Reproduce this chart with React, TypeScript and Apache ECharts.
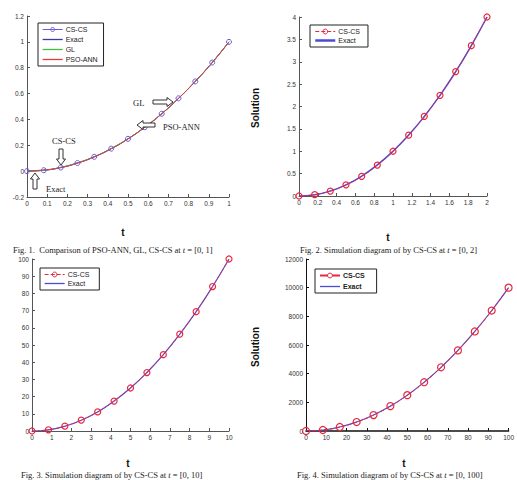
import React, { useEffect, useRef } from "react";
import * as echarts from "echarts";

// ---------- data ----------
// Fig. 1: t in [0,1]
const T1 = [0, 0.083, 0.167, 0.25, 0.333, 0.417, 0.5, 0.583, 0.667, 0.75, 0.833, 0.917, 1];
const CS1 = [0, 0.007, 0.028, 0.063, 0.111, 0.174, 0.25, 0.34, 0.444, 0.563, 0.694, 0.84, 1];
const EXACT1 = [0, 0.007, 0.028, 0.063, 0.111, 0.174, 0.25, 0.34, 0.444, 0.563, 0.694, 0.84, 1];
const GL1 = [0, 0.006, 0.03, 0.065, 0.112, 0.176, 0.251, 0.34, 0.445, 0.562, 0.693, 0.838, 1];
const PSO1 = [0.003, 0.009, 0.027, 0.062, 0.11, 0.173, 0.249, 0.339, 0.444, 0.563, 0.695, 0.841, 1];
// Fig. 2: t in [0,2]
const T2 = [0, 0.167, 0.333, 0.5, 0.667, 0.833, 1, 1.167, 1.333, 1.5, 1.667, 1.833, 2];
const CS2 = [0, 0.03, 0.11, 0.25, 0.44, 0.69, 1, 1.36, 1.78, 2.25, 2.78, 3.36, 4];
const EXACT2 = [0, 0.028, 0.111, 0.25, 0.444, 0.694, 1, 1.361, 1.778, 2.25, 2.778, 3.361, 4];
// Fig. 3: t in [0,10]
const T3 = [0, 0.833, 1.667, 2.5, 3.333, 4.167, 5, 5.833, 6.667, 7.5, 8.333, 9.167, 10];
const CS3 = [0, 0.7, 2.8, 6.3, 11.1, 17.4, 25, 34, 44.4, 56.3, 69.4, 84, 100];
const EXACT3 = [0, 0.69, 2.78, 6.25, 11.1, 17.4, 25, 34, 44.4, 56.25, 69.4, 84, 100];
// Fig. 4: t in [0,100]
const T4 = [0, 8.33, 16.67, 25, 33.33, 41.67, 50, 58.33, 66.67, 75, 83.33, 91.67, 100];
const CS4 = [0, 69, 278, 625, 1111, 1736, 2500, 3403, 4444, 5625, 6944, 8403, 10000];
const EXACT4 = [0, 69, 278, 625, 1111, 1736, 2500, 3403, 4444, 5625, 6944, 8403, 10000];

const CAPTIONS = [
  ["Fig. 1.  Comparison of PSO-ANN, GL, CS-CS at ", "t", " = [0, 1]"],
  ["Fig. 2. Simulation diagram of by CS-CS at ", "t", " = [0, 2]"],
  ["Fig. 3. Simulation diagram of by CS-CS at ", "t", " = [0, 10]"],
  ["Fig. 4. Simulation diagram of by CS-CS at ", "t", " = [0, 100]"],
];

const SANS = "Liberation Sans, Arial, sans-serif";
const SERIF = "Liberation Serif, Times New Roman, serif";

const pairs = (xs: number[], ys: number[]) => xs.map((x, i) => [x, ys[i]]);

function arrowH(x0: number, x1: number, cy: number, dir: 1 | -1) {
  const bh = 2, hh = 4.5, hl = 6;
  let pts: number[][];
  if (dir === 1) {
    pts = [[x0, cy - bh], [x1 - hl, cy - bh], [x1 - hl, cy - hh], [x1, cy], [x1 - hl, cy + hh], [x1 - hl, cy + bh], [x0, cy + bh]];
  } else {
    pts = [[x1, cy - bh], [x0 + hl, cy - bh], [x0 + hl, cy - hh], [x0, cy], [x0 + hl, cy + hh], [x0 + hl, cy + bh], [x1, cy + bh]];
  }
  return { type: "polygon", shape: { points: pts }, style: { fill: "#fff", stroke: "#333", lineWidth: 1 }, z: 100 };
}
function arrowV(cx: number, y0: number, y1: number, dir: 1 | -1) {
  const bh = 2, hh = 4.5, hl = 6;
  let pts: number[][];
  if (dir === 1) {
    pts = [[cx - bh, y0], [cx - bh, y1 - hl], [cx - hh, y1 - hl], [cx, y1], [cx + hh, y1 - hl], [cx + bh, y1 - hl], [cx + bh, y0]];
  } else {
    pts = [[cx - bh, y1], [cx - bh, y0 + hl], [cx - hh, y0 + hl], [cx, y0], [cx + hh, y0 + hl], [cx + bh, y0 + hl], [cx + bh, y1]];
  }
  return { type: "polygon", shape: { points: pts }, style: { fill: "#fff", stroke: "#333", lineWidth: 1 }, z: 100 };
}

function axisPair(idx: number, min: number, max: number, interval: number, ymin: number, ymax: number, yint: number, lineColor: string, xLineWidth = 1) {
  const lab = { fontSize: 6.5, color: "#333", fontFamily: SANS, margin: 3, formatter: (v: number) => String(+v.toFixed(6)) };
  const x = {
    type: "value", gridIndex: idx, min, max, interval,
    axisLine: { show: true, onZero: false, lineStyle: { color: lineColor, width: xLineWidth } },
    axisTick: { show: true, inside: true, length: 3, lineStyle: { color: lineColor } },
    axisLabel: { ...lab, showMinLabel: true, showMaxLabel: true },
    splitLine: { show: false },
  };
  const y = {
    type: "value", gridIndex: idx, min: ymin, max: ymax, interval: yint,
    axisLine: { show: true, onZero: false, lineStyle: { color: lineColor } },
    axisTick: { show: true, inside: true, length: 3, lineStyle: { color: lineColor } },
    axisLabel: { ...lab, showMinLabel: true, showMaxLabel: true },
    splitLine: { show: false },
  };
  return { x, y };
}

function captionText(i: number, x: number, y: number) {
  const [a, t, b] = CAPTIONS[i];
  return {
    type: "text", x, y, z: 100,
    style: {
      text: `{n|${a}}{i|${t}}{n|${b}}`,
      rich: {
        n: { fontFamily: SERIF, fontSize: 8.5, fill: "#222" },
        i: { fontFamily: SERIF, fontSize: 8.5, fontStyle: "italic", fill: "#222" },
      },
      verticalAlign: "middle",
    },
  };
}

function label(text: string, x: number, y: number, opts: any = {}) {
  return {
    type: "text", x, y, z: 100, rotation: opts.rotation || 0,
    style: {
      text, fontFamily: opts.family || SANS, fontSize: opts.size || 10, fontWeight: opts.weight || "bold",
      fill: "#111", align: "center", verticalAlign: "middle",
    },
  };
}

const NO_SYMBOL = { color: "rgba(0,0,0,0)", borderColor: "rgba(0,0,0,0)", borderWidth: 0 };

export default function App() {
  const ref = useRef<HTMLDivElement>(null);
  useEffect(() => {
    if (!ref.current) return;
    const chart = echarts.init(ref.current, undefined, { renderer: "svg" });
    const a1 = axisPair(0, 0, 1, 0.1, -0.2, 1.2, 0.2, "#555");
    const a2 = axisPair(1, 0, 2, 0.2, 0, 4, 0.5, "#555");
    const a3 = axisPair(2, 0, 10, 1, 0, 100, 10, "#555");
    const a4 = axisPair(3, 0, 100, 10, 0, 12000, 2000, "#111", 1.6);

    const red = "#e8283c";
    const blue = "#4a4ad8";
    const c1 = { cs: "#6a5ad8", ex: "#3a3aa8", gl: "#40c040", pso: "#e83848" };

    const legendBase = {
      orient: "vertical", borderColor: "#222", borderWidth: 1, backgroundColor: "#fff", borderRadius: 0,
      itemWidth: 20, itemHeight: 5, itemGap: 3, padding: [3, 6, 3, 4],
      textStyle: { fontSize: 7, fontFamily: SANS, color: "#222", padding: [0, 0, 0, -2] },
      itemStyle: { borderWidth: 1 },
      selectedMode: false,
    };
    const noSym = (name: string, color: string, width = 1.3) => ({ name, itemStyle: NO_SYMBOL, lineStyle: { color, width, opacity: 1, type: "solid" } });

    const option: any = {
      animation: false,
      backgroundColor: "#fff",
      grid: [
        { left: 27, top: 16, width: 202, height: 181 },
        { left: 299, top: 17, width: 188, height: 179 },
        { left: 32, top: 259, width: 197, height: 172 },
        { left: 306, top: 259, width: 207, height: 172 },
      ],
      xAxis: [a1.x, a2.x, a3.x, a4.x],
      yAxis: [a1.y, a2.y, a3.y, a4.y],
      legend: [
        {
          ...legendBase, left: 38, top: 23,
          data: [
            { name: "CS-CS", lineStyle: { color: c1.cs, width: 1 } },
            noSym("Exact", c1.ex), noSym("GL", c1.gl), noSym("PSO-ANN", c1.pso),
          ],
        },
        {
          ...legendBase, left: 310, top: 25, itemGap: 2, itemHeight: 6,
          data: [{ name: "CS-CS ", lineStyle: { color: red, width: 1 } }, noSym("Exact ", blue, 2.5)],
        },
        {
          ...legendBase, left: 40, top: 268, itemGap: 2, itemHeight: 6,
          data: [{ name: "CS-CS  ", lineStyle: { color: red, width: 1 } }, noSym("Exact  ", blue)],
        },
        {
          ...legendBase, left: 315, top: 269, itemGap: 4, itemHeight: 6, textStyle: { ...legendBase.textStyle, fontWeight: "bold" },
          data: [{ name: "CS-CS   ", lineStyle: { color: red, width: 2 } }, noSym("Exact   ", blue)],
        },
      ],
      series: [
        // Fig 1
        {
          name: "CS-CS", type: "line", xAxisIndex: 0, yAxisIndex: 0, data: pairs(T1, CS1), smooth: true,
          symbol: "circle", symbolSize: 5, itemStyle: { color: "rgba(255,255,255,0)", borderColor: c1.cs, borderWidth: 1 },
          lineStyle: { color: c1.cs, width: 1 }, color: c1.cs,
        },
        { name: "Exact", type: "line", xAxisIndex: 0, yAxisIndex: 0, data: pairs(T1, EXACT1), smooth: true, symbol: "none", lineStyle: { color: c1.ex, width: 1 }, color: c1.ex },
        { name: "GL", type: "line", xAxisIndex: 0, yAxisIndex: 0, data: pairs(T1, GL1), smooth: true, symbol: "none", lineStyle: { color: c1.gl, width: 1 }, color: c1.gl },
        { name: "PSO-ANN", type: "line", xAxisIndex: 0, yAxisIndex: 0, data: pairs(T1, PSO1), smooth: true, symbol: "none", lineStyle: { color: c1.pso, width: 1 }, color: c1.pso },
        // Fig 2
        { name: "Exact ", type: "line", xAxisIndex: 1, yAxisIndex: 1, data: pairs(T2, EXACT2), smooth: true, symbol: "none", lineStyle: { color: blue, width: 1.5 }, color: blue },
        {
          name: "CS-CS ", type: "line", xAxisIndex: 1, yAxisIndex: 1, data: pairs(T2, CS2), smooth: true,
          symbol: "circle", symbolSize: 6, itemStyle: { color: "rgba(255,255,255,0)", borderColor: red, borderWidth: 1.2 },
          lineStyle: { color: red, width: 0.8, type: "dashed" }, color: red,
        },
        // Fig 3
        { name: "Exact  ", type: "line", xAxisIndex: 2, yAxisIndex: 2, data: pairs(T3, EXACT3), smooth: true, symbol: "none", lineStyle: { color: blue, width: 1.2 }, color: blue },
        {
          name: "CS-CS  ", type: "line", xAxisIndex: 2, yAxisIndex: 2, data: pairs(T3, CS3), smooth: true,
          symbol: "circle", symbolSize: 6, itemStyle: { color: "rgba(255,255,255,0)", borderColor: red, borderWidth: 1.2 },
          lineStyle: { color: red, width: 0.8, type: "dashed" }, color: red,
        },
        // Fig 4
        { name: "Exact   ", type: "line", xAxisIndex: 3, yAxisIndex: 3, data: pairs(T4, EXACT4), smooth: true, symbol: "none", lineStyle: { color: blue, width: 1.2 }, color: blue },
        {
          name: "CS-CS   ", type: "line", xAxisIndex: 3, yAxisIndex: 3, data: pairs(T4, CS4), smooth: true,
          symbol: "circle", symbolSize: 7, itemStyle: { color: "rgba(255,255,255,0)", borderColor: red, borderWidth: 1.2 },
          lineStyle: { color: red, width: 1, type: "dashed" }, color: red,
        },
      ],
      graphic: [
        // Fig 1 annotations
        { type: "text", x: 133, y: 103, z: 100, style: { text: "GL", fontFamily: SERIF, fontSize: 8.5, fill: "#222", verticalAlign: "middle" } },
        arrowH(153, 173, 102, 1),
        { type: "text", x: 163, y: 127, z: 100, style: { text: "PSO-ANN", fontFamily: SERIF, fontSize: 8.5, fill: "#222", verticalAlign: "middle" } },
        arrowH(137, 155, 125, -1),
        { type: "text", x: 52, y: 141, z: 100, style: { text: "CS-CS", fontFamily: SERIF, fontSize: 8.5, fill: "#222", verticalAlign: "middle" } },
        arrowV(61, 149, 165, 1),
        { type: "text", x: 46, y: 189, z: 100, style: { text: "Exact", fontFamily: SERIF, fontSize: 8.5, fill: "#222", verticalAlign: "middle" } },
        arrowV(35, 173, 189, -1),
        // axis titles
        label("t", 123, 232),
        label("t", 388, 237),
        label("t", 128, 463),
        label("t", 404, 463),
        label("Solution", 255, 108, { rotation: Math.PI / 2 }),
        label("Solution", 255, 347, { rotation: Math.PI / 2 }),
        // captions
        captionText(0, 13, 250),
        captionText(1, 300, 250),
        captionText(2, 21, 475),
        captionText(3, 297, 475),
      ],
    };
    chart.setOption(option);
    return () => chart.dispose();
  }, []);
  return <div ref={ref} style={{ position: "fixed", left: 0, top: 0, width: 517, height: 480 }} />;
}
